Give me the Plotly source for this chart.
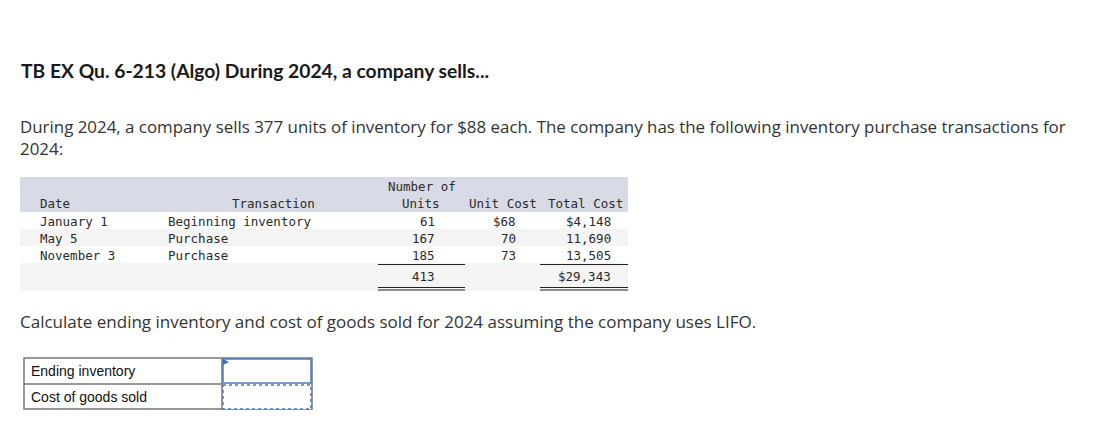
import plotly.graph_objects as go

# Inventory purchase transactions for 2024
dates = ['January 1', 'May 5', 'November 3']
transactions = ['Beginning inventory', 'Purchase', 'Purchase']
units = [61, 167, 185]
unit_costs = [68, 70, 73]
total_costs = [4148, 11690, 13505]
total_units = 413
total_cost = 29343

answer_labels = ['Ending inventory', 'Cost of goods sold']

title_text = 'TB EX Qu. 6-213 (Algo) During 2024, a company sells...'
intro_lines = ['During 2024, a company sells 377 units of inventory for $88 each. '
               'The company has the following inventory purchase transactions for',
               '2024:']
question_text = 'Calculate ending inventory and cost of goods sold for 2024 assuming the company uses LIFO.'

W, H = 1119, 433
OFF = 8  # page body margin
MONO = 'DejaVu Sans Mono'
SANS = 'Open Sans'

fig = go.Figure()
# invisible trace so the axes exist
fig.add_trace(go.Scatter(x=[0, W], y=[0, H], mode='markers', marker=dict(opacity=0),
                         hoverinfo='skip', showlegend=False))

shapes = []
annotations = []


def text(x, y, s, size=12.5, family=MONO, color='#2a2a2a', anchor='left', bold=False):
    if bold:
        s = '<b>' + s + '</b>'
    annotations.append(dict(x=x, y=y, xref='x', yref='y', text=s, showarrow=False,
                            xanchor=anchor, yanchor='middle', align='left',
                            font=dict(size=size, family=family, color=color)))


def rect(x0, y0, x1, y1, fill=None, line_color=None, width=1, dash=None):
    shapes.append(dict(type='rect', xref='x', yref='y', x0=x0, y0=y0, x1=x1, y1=y1,
                       fillcolor=fill if fill else 'rgba(0,0,0,0)',
                       line=dict(color=line_color if line_color else 'rgba(0,0,0,0)',
                                 width=width if line_color else 0, dash=dash),
                       layer='below'))


def hline(x0, x1, y, color='#222222', width=1):
    shapes.append(dict(type='line', xref='x', yref='y', x0=x0, x1=x1, y0=y, y1=y,
                       line=dict(color=color, width=width)))


# title and intro
text(19, 70, title_text, size=19.3, family='Lato', color='#1a1a1a', bold=True)
text(18, 137.5, '<br>'.join(intro_lines), size=16.9, family=SANS, color='#333333')

# table backgrounds
tbl_x0, tbl_x1 = 20, 628
rect(tbl_x0, 177, tbl_x1, 212, fill='#d8dbe5')
row_tops = [212, 229, 246, 263]
row_bots = [229, 246, 263, 291]
for i, (t, b) in enumerate(zip(row_tops, row_bots)):
    rect(tbl_x0, t, tbl_x1, b, fill='#ffffff' if i % 2 == 0 else '#f4f4f4')

# header
text(38, 203, 'Date')
text(317, 203, 'Transaction', anchor='right')
text(458, 186, 'Number of', anchor='right')
text(442, 203, 'Units', anchor='right')
text(539, 203, 'Unit Cost', anchor='right')
text(625, 203, 'Total Cost', anchor='right')

row_y = [221, 238, 255]
for i in range(len(dates)):
    text(38, row_y[i], dates[i])
    text(166, row_y[i], transactions[i])
    text(437, row_y[i], str(units[i]), anchor='right')
    uc = ('$' if i == 0 else '') + str(unit_costs[i])
    text(518, row_y[i], uc, anchor='right')
    tc = ('$' if i == 0 else '') + f'{total_costs[i]:,}'
    text(613, row_y[i], tc, anchor='right')

text(437, 276, str(total_units), anchor='right')
text(613, 276, f'${total_cost:,}', anchor='right')

# rules under the columns
for x0, x1 in [(378, 465), (540, 628)]:
    hline(x0, x1, 264.5)
    hline(x0, x1, 287.5)
    hline(x0, x1, 290)

# question
text(18, 321, question_text, size=17, family=SANS, color='#333333')

# answer table
rect(24, 358, 312, 409, line_color='#777777', width=1.5)
hline(24, 222, 384, color='#777777', width=1.5)
shapes.append(dict(type='line', xref='x', yref='y', x0=222, x1=222, y0=358, y1=409,
                   line=dict(color='#777777', width=1.5)))
text(29, 371, answer_labels[0], size=14, family='Liberation Sans', color='#111111')
text(29, 397, answer_labels[1], size=14, family='Liberation Sans', color='#111111')
shapes.append(dict(type='rect', xref='x', yref='y', x0=223, y0=359, x1=311, y1=383,
                   fillcolor='#ffffff', line=dict(color='#4a7cc0', width=1.5)))
shapes.append(dict(type='rect', xref='x', yref='y', x0=223, y0=385, x1=311, y1=409,
                   fillcolor='#ffffff', line=dict(color='#4a7cc0', width=1.5, dash='dot')))
shapes.append(dict(type='path', xref='x', yref='y', path='M 223 359 L 229 362 L 223 365 Z',
                   fillcolor='#3b6fb6', line=dict(width=0)))

fig.update_layout(
    width=W, height=H,
    margin=dict(l=0, r=0, t=0, b=0),
    paper_bgcolor='#ffffff', plot_bgcolor='#ffffff',
    # shift ranges to cancel the page's default body margin
    xaxis=dict(range=[OFF, W + OFF], visible=False, fixedrange=True),
    yaxis=dict(range=[H + OFF, OFF], visible=False, fixedrange=True),
    shapes=shapes, annotations=annotations,
    showlegend=False,
)

fig.write_html('out.html', config={'displayModeBar': False})
